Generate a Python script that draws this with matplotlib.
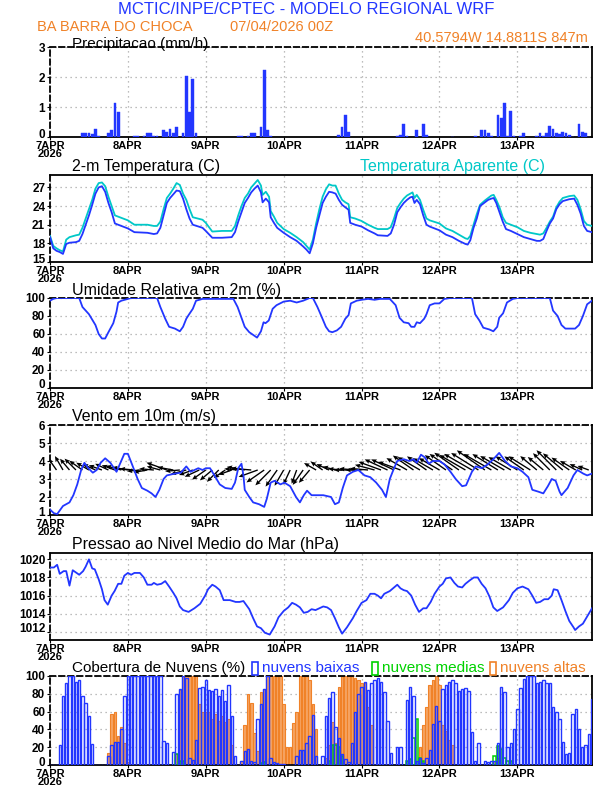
import numpy as np
import matplotlib
matplotlib.use("Agg")
import matplotlib.pyplot as plt
from matplotlib.patches import Rectangle
from matplotlib.transforms import ScaledTranslation

# eixo de tempo (horas desde 07/04/2026 00Z)
day_ticks = [0, 24, 48, 72, 96, 120, 144]
day_labels = ["7APR\n2026", "8APR", "9APR", "10APR", "11APR", "12APR", "13APR"]

# precipitacao (mm/h), so as horas com chuva
precip_h = [10, 11, 12, 13, 14, 15, 18, 19, 20, 21,
            26, 27, 29, 30, 31, 32, 33, 35, 36, 37,
            38, 39, 41, 42, 43, 44, 45, 58, 59, 61,
            62, 63, 65, 66, 67, 68, 89, 90, 91, 92,
            107, 108, 109, 110, 113, 115, 116, 124, 131, 133,
            134, 135, 136, 138, 139, 140, 141, 142, 143, 145,
            146, 150, 151, 152, 153, 154, 155, 156, 157, 158,
            159, 160, 161, 163, 164, 165, 166]
precip_v = [0.12, 0.15, 0.12, 0.1, 0.28, 0.05, 0.12, 0.25, 1.15, 0.85,
            0.02, 0.02, 0.05, 0.15, 0.12, 0.05, 0.05, 0.22, 0.18, 0.28,
            0.12, 0.32, 0.15, 2.02, 0.85, 1.92, 0.12, 0.02, 0.02, 0.05,
            0.15, 0.15, 0.35, 2.25, 0.25, 0.05, 0.08, 0.35, 0.75, 0.18,
            0.02, 0.08, 0.45, 0.03, 0.22, 0.42, 0.08, 0.01, 0.04, 0.25,
            0.22, 0.15, 0.02, 0.72, 0.65, 1.12, 0.05, 0.88, 0.02, 0.05,
            0.15, 0.04, 0.15, 0.05, 0.15, 0.38, 0.28, 0.14, 0.1, 0.18,
            0.13, 0.07, 0.01, 0.42, 0.18, 0.15, 0.01]

# temperatura 2m e aparente (C)
temp_h = [0, 1, 2, 3, 4, 5, 6, 8, 9, 10,
          11, 12, 13, 14, 15, 16, 17, 18, 19, 20,
          21, 24, 26, 30, 32, 33, 34, 35, 36, 37,
          38, 39, 40, 41, 42, 43, 44, 47, 48, 50,
          53, 56, 57, 58, 59, 60, 61, 62, 63, 64,
          65, 65.5, 66.5, 67.5, 68, 69, 70, 72, 74, 76,
          78, 79, 80, 81, 82, 83, 84, 85, 86, 87,
          88, 89, 90, 91, 92, 92.5, 94, 96, 98, 100,
          101, 104, 105, 106, 107, 108, 109, 110, 111, 111.7,
          112.3, 113, 114, 115, 116, 117, 120, 122, 124, 126,
          128, 128.7, 129.5, 130.5, 131.5, 132.5, 134, 135, 136, 136.7,
          137.5, 138.5, 139.5, 140.5, 142, 144, 146, 148, 150, 151,
          152, 153, 154, 155, 156, 157, 158, 160, 161.5, 162.5,
          163.5, 164.5, 165.5, 167]
temp_2m = [19.0, 17.2, 16.8, 16.6, 16.3, 17.9, 18.1, 18.2, 18.4, 19.5,
           21.0, 22.5, 24.2, 26.0, 27.0, 27.2, 26.3, 24.5, 23.0, 21.2,
           21.0, 20.4, 19.8, 19.7, 19.5, 19.6, 20.5, 22.5, 24.5, 25.3,
           25.9, 26.5, 26.4, 25.2, 23.5, 22.0, 21.0, 20.5, 20.0, 18.9,
           18.9, 19.0, 19.8, 21.5, 23.0, 24.5, 25.3, 26.2, 26.8, 27.3,
           26.2, 24.6, 25.2, 24.6, 22.2, 21.3, 20.5, 19.7, 19.0, 18.4,
           17.5, 17.0, 16.4, 18.0, 20.5, 22.5, 24.5, 25.5, 26.3, 26.2,
           26.0, 25.0, 24.2, 23.8, 23.4, 21.3, 21.0, 20.7, 20.1, 19.6,
           19.3, 19.2, 19.6, 21.0, 23.0, 23.8, 24.5, 25.0, 25.4, 25.5,
           24.5, 25.0, 24.3, 22.5, 21.0, 20.7, 20.1, 19.4, 19.0, 18.4,
           17.9, 17.8, 18.5, 20.5, 22.0, 24.0, 24.6, 25.0, 25.2, 25.3,
           24.5, 23.0, 21.5, 20.3, 20.0, 19.5, 19.0, 18.7, 18.4, 18.4,
           18.7, 20.0, 21.2, 22.0, 23.5, 24.3, 24.8, 25.1, 25.2, 24.2,
           22.8, 20.8, 20.0, 19.8]
temp_ap = [19.2, 17.6, 17.2, 16.9, 16.7, 18.6, 19.0, 19.3, 19.4, 20.5,
           22.0, 23.5, 25.0, 26.8, 27.7, 27.8, 27.2, 25.5, 24.0, 22.5,
           22.3, 21.7, 21.0, 21.0, 20.8, 20.8, 21.5, 23.5, 25.3, 26.0,
           26.8, 27.7, 27.4, 26.0, 25.0, 23.5, 22.2, 21.8, 21.3, 19.9,
           20.0, 20.0, 20.8, 22.5, 24.0, 25.3, 26.0, 27.0, 27.6, 28.2,
           27.3, 25.8, 26.3, 25.5, 23.2, 22.3, 21.3, 20.3, 19.7, 19.0,
           18.2, 17.6, 17.0, 18.6, 21.2, 23.5, 25.5, 26.7, 27.5, 27.3,
           27.3, 26.0, 25.0, 24.6, 24.3, 22.2, 22.0, 21.6, 21.0, 20.5,
           20.3, 20.3, 20.6, 22.0, 23.7, 24.5, 25.2, 25.7, 26.0, 26.2,
           25.3, 25.8, 25.0, 23.4, 22.0, 21.7, 21.2, 20.4, 20.0, 19.4,
           18.8, 18.7, 19.2, 21.0, 22.7, 24.2, 24.9, 25.3, 25.7, 25.8,
           25.0, 23.8, 22.2, 21.3, 21.0, 20.6, 20.0, 19.7, 19.5, 19.4,
           19.6, 20.5, 21.5, 22.3, 23.8, 24.7, 25.3, 25.6, 25.7, 25.0,
           23.5, 21.6, 21.0, 20.8]

# umidade relativa (%)
rh_h = [0, 1, 2, 9, 10, 12, 14, 15, 16, 17,
        18, 19.5, 20.5, 21, 22, 24, 25, 33, 34, 35.5,
        36.7, 38.5, 40, 41, 42, 42.7, 44, 45, 47, 48,
        56.5, 57.8, 59, 60, 61.4, 63, 63.8, 65, 65.8, 66.4,
        67.4, 68.6, 69.8, 72, 74, 76, 78, 80, 81, 82.4,
        83.6, 85, 86, 87, 88.4, 89.7, 91, 92, 92.7, 94.5,
        96, 98, 100, 101.7, 104.7, 106.5, 107.7, 109, 110.5, 111.3,
        112.3, 113, 114, 115.3, 116, 117, 118.5, 120, 121.5, 123.4,
        130, 131, 132.3, 133.5, 135.4, 136.6, 137.8, 138.4, 139.6, 140.8,
        142.6, 144, 154, 155, 156.4, 157.6, 158.8, 161.8, 163, 164.2,
        165.5, 167]
rh = [97, 99, 100, 100, 90, 82, 70, 60, 55, 55,
      62, 72, 85, 95, 97, 99, 100, 100, 90, 77,
      68, 66, 63, 68, 77, 81, 88, 97, 99, 99,
      99, 90, 78, 68, 62, 58, 56, 63, 73, 72,
      75, 88, 92, 96, 97, 95, 97, 100, 100, 90,
      80, 68, 63, 62, 64, 68, 77, 81, 94, 97,
      98, 99, 98, 99, 99, 92, 78, 73, 72, 68,
      68, 73, 72, 77, 82, 92, 94, 94, 99, 100,
      100, 82, 75, 67, 65, 63, 68, 78, 83, 95,
      99, 100, 100, 86, 80, 70, 66, 66, 70, 80,
      93, 97]

# vento 10m: velocidade (m/s)
ws_h = [0, 1.2, 2.2, 4, 6, 7.2, 8.4, 9.6, 10.6, 11.8,
        13.2, 14.4, 15.6, 17, 18.6, 20.5, 21.7, 22.9, 24, 25.3,
        27, 28.3, 30, 31.3, 32.5, 33.7, 35, 36, 38.5, 40.3,
        42, 43.3, 44.5, 45.7, 47, 48, 49.3, 51, 52.3, 54,
        56, 57, 58, 59, 59.6, 60, 61.4, 62.6, 64.4, 66,
        66.8, 68, 69.2, 71, 72.2, 74, 75.8, 77, 78.2, 79.2,
        80.6, 82.4, 84.2, 86.6, 87.8, 89, 90.2, 91.5, 93.3, 95,
        96.9, 98.7, 100.5, 102.3, 103.5, 104.7, 106, 107, 109, 110.7,
        112, 113, 114.3, 115.5, 116.7, 118, 120, 121.6, 123.4, 125,
        127, 128.2, 130, 131.2, 133, 134.8, 136.6, 138.4, 140.2, 142,
        144, 145.6, 147.4, 148.6, 150.4, 152, 153.4, 154.6, 155.8, 157,
        157.6, 159.5, 161.3, 162.5, 164.3, 165.5, 167]
ws = [1.3, 1.1, 1.05, 1.5, 1.7, 2.1, 2.7, 3.5, 3.9, 3.6,
      3.35, 3.5, 3.9, 4.15, 3.9, 3.4, 3.9, 4.4, 4.4, 3.8,
      3.0, 2.5, 2.35, 2.2, 2.0, 2.4, 3.0, 3.2, 3.3, 3.35,
      3.7, 3.4, 3.5, 3.6, 3.5, 3.6, 3.6, 3.1, 2.7, 2.5,
      2.45, 2.8, 3.6, 3.85, 3.2, 2.4, 2.0, 1.7, 1.6, 1.45,
      1.9, 2.8, 2.9, 2.7, 2.8, 2.6, 2.0, 1.7, 2.1, 2.35,
      2.1, 2.1, 2.1, 2.0, 1.6, 1.7, 2.5, 3.2, 3.4, 3.5,
      3.2, 3.1, 2.8, 2.4, 2.0, 3.0, 3.6, 4.0, 4.1, 4.0,
      4.1, 3.9, 4.35, 4.2, 3.85, 4.0, 4.0, 3.8, 3.4, 3.0,
      2.6, 2.65, 3.4, 3.7, 3.6, 3.8, 4.1, 4.45, 4.0, 3.7,
      3.6, 3.4, 3.1, 2.4, 2.3, 2.2, 2.6, 3.0, 2.9, 2.3,
      2.1, 2.5, 3.2, 3.5, 3.3, 3.2, 3.3]

# vetores de vento a cada 2h: angulo da seta (graus) e tamanho
vec_h = list(range(0, 167, 2))
vec_ang = [120, 125, 120, 130, 135, 145, 150, 155, 160, 155,
           160, 165, 170, 175, 185, 190, 175, 165, 160, 170,
           185, 195, 200, 205, 215, 220, 225, 215, 200, 175,
           170, 175, 200, 215, 225, 235, 240, 245, 250, 235,
           230, 150, 145, 155, 165, 175, 180, 175, 180, 175,
           165, 160, 155, 155, 160, 150, 145, 150, 145, 150,
           150, 145, 145, 145, 150, 150, 148, 145, 150, 148,
           150, 150, 148, 145, 148, 140, 140, 135, 135, 140,
           145, 150, 155, 160]
vec_len = [1.4, 2.0, 2.3, 2.1, 2.3, 2.3, 2.1, 2.0, 2.0, 2.1,
           2.0, 2.3, 2.3, 2.1, 2.0, 2.0, 2.1, 2.0, 3.1, 2.3,
           2.1, 2.3, 2.1, 2.3, 2.4, 2.3, 2.4, 2.0, 2.0, 2.0,
           2.6, 2.9, 2.9, 3.1, 3.1, 2.9, 2.6, 2.3, 2.1, 2.6,
           2.4, 2.0, 2.1, 2.0, 1.9, 2.0, 2.1, 2.3, 2.3, 2.6,
           2.9, 3.4, 3.6, 3.6, 3.4, 3.4, 3.6, 3.7, 3.4, 3.4,
           3.4, 3.7, 4.0, 4.3, 4.3, 4.6, 4.6, 4.9, 4.6, 4.3,
           4.0, 3.7, 3.7, 3.4, 3.7, 3.1, 2.9, 3.4, 4.0, 3.7,
           3.1, 2.6, 2.0, 1.7]

# pressao ao nivel medio do mar (hPa)
p_h = [0, 1.2, 2.2, 3, 4.2, 5, 6, 7, 7.8, 9,
       10.2, 11, 12, 13, 13.8, 15, 16, 16.8, 17.8, 19,
       19.9, 21, 22, 22.9, 24, 25, 26, 27.7, 28.9, 30,
       31.3, 32, 33, 34.3, 35.5, 36.7, 38, 39, 40, 41,
       42.7, 44.5, 46.3, 47.8, 48.7, 50, 51, 52.3, 53.5, 55.4,
       57.2, 58.4, 59.6, 61.4, 62.6, 63.8, 65, 66.2, 67.7, 69.2,
       70.4, 72, 73.4, 74.6, 75.8, 77, 78.2, 79.4, 80.6, 81.8,
       83, 84.2, 85.4, 86.6, 87.8, 89, 90, 91.5, 93.3, 94.5,
       96, 97.5, 98.7, 100, 101, 102, 103, 104.7, 106, 107,
       108, 109, 110, 111.3, 112.5, 113.7, 115, 116, 117.3, 118.5,
       120, 121, 122, 123.4, 124.6, 125.7, 127, 128, 129.4, 130.6,
       131.8, 133, 134.2, 135.4, 136.6, 137.8, 139.6, 141.4, 142.6, 144,
       145.6, 147.4, 148.6, 149.8, 151, 152.3, 153.5, 154.6, 155.2, 156.4,
       157.6, 158.8, 160, 161.3, 161.8, 163, 164.2, 165.5, 167]
pres = [1019.1, 1019.1, 1019.4, 1018.4, 1018.7, 1018.7, 1017.1, 1018.8, 1018.6, 1018.3,
        1018.7, 1019.2, 1020.0, 1019.0, 1018.9, 1017.8, 1016.7, 1015.5, 1015.0, 1016.0,
        1016.5, 1017.3, 1017.3, 1018.2, 1018.5, 1018.3, 1018.5, 1018.5, 1018.0, 1017.2,
        1017.2, 1017.4, 1017.2, 1017.3, 1017.6, 1017.0, 1016.3, 1015.7, 1014.8, 1014.4,
        1014.2, 1014.6, 1015.1, 1016.0, 1016.7, 1017.2, 1017.0, 1016.6, 1015.5, 1015.5,
        1015.3, 1015.3, 1015.4, 1014.5, 1013.5, 1012.6, 1012.4, 1011.9, 1011.7, 1012.6,
        1013.6, 1014.3, 1014.7, 1015.2, 1015.0, 1014.7, 1014.1, 1014.2, 1014.5, 1014.4,
        1014.6, 1014.8, 1014.7, 1014.4, 1013.5, 1012.5, 1011.8, 1012.5, 1013.5, 1014.3,
        1015.2, 1015.5, 1016.2, 1016.2, 1016.0, 1015.7, 1016.2, 1016.5, 1016.9, 1017.2,
        1016.8, 1016.6, 1016.5, 1016.0, 1015.0, 1014.2, 1014.6, 1014.6, 1015.3, 1016.2,
        1017.0, 1017.3, 1017.9, 1018.0, 1017.4, 1017.0, 1016.9, 1017.3, 1017.7, 1018.0,
        1018.0, 1017.3, 1016.8, 1015.9, 1014.7, 1014.3, 1014.7, 1015.5, 1016.3, 1016.8,
        1017.0, 1016.7, 1016.0, 1015.2, 1015.3, 1015.6, 1015.6, 1016.0, 1016.7, 1016.6,
        1015.5, 1014.3, 1013.2, 1012.5, 1012.2, 1012.6, 1012.9, 1013.7, 1014.6]

# cobertura de nuvens (%), nuvens baixas hora a hora (0..167)
cld_low = [0, 0, 0, 22, 77, 92, 100, 100, 93, 96, 78, 70,
           55, 24, 0, 0, 0, 0, 10, 23, 26, 26, 40, 78,
           100, 100, 100, 100, 100, 100, 100, 100, 100, 100, 100, 27,
           25, 0, 15, 80, 85, 100, 98, 8, 6, 28, 86, 88,
           95, 84, 83, 85, 77, 84, 72, 90, 55, 10, 0, 5,
           16, 18, 4, 3, 52, 68, 85, 100, 8, 3, 2, 1,
           1, 0, 0, 0, 10, 17, 17, 25, 33, 56, 10, 0,
           10, 55, 75, 82, 43, 30, 12, 7, 3, 25, 60, 80,
           88, 93, 84, 92, 95, 98, 93, 82, 50, 13, 0, 20,
           20, 0, 73, 88, 78, 5, 8, 2, 8, 17, 46, 66,
           50, 85, 90, 93, 96, 92, 83, 85, 87, 83, 37, 5,
           25, 0, 5, 3, 5, 5, 25, 88, 82, 20, 25, 40,
           63, 86, 97, 100, 100, 100, 92, 93, 95, 92, 92, 65,
           60, 52, 26, 12, 13, 57, 63, 41, 20, 22, 35, 74]
# nuvens medias (so as horas nao nulas)
cld_mid_h = [39, 40, 41, 65, 66, 86, 87, 88, 89, 90,
             110, 111, 112, 113, 114, 115, 137, 138, 139, 140, 141, 142]
cld_mid = [12, 5, 5, 2, 3, 5, 22, 23, 20, 10,
           5, 7, 30, 52, 8, 5, 10, 21, 18, 8, 5, 5]
# nuvens altas (so as horas nao nulas)
cld_high_h = [18, 19, 20, 21, 22, 23, 24,
              39, 40, 41, 42, 43, 44, 45, 46, 47, 48, 49, 50, 51, 52, 53, 54, 55, 56,
              59, 60, 61, 62, 63, 64, 65, 66, 67, 68, 69, 70, 71, 72, 73, 74, 75, 76,
              77, 78, 79, 80, 81, 82,
              85, 86, 87, 88, 89, 90, 91, 92, 93, 94, 95, 96, 97, 98, 99,
              114, 115, 116, 117, 118, 119, 120, 121, 122, 123, 124, 137, 138]
cld_high = [14, 57, 60, 33, 43, 25, 3,
            12, 84, 100, 100, 100, 100, 100, 68, 60, 60, 60, 52, 57, 50, 55, 48, 52, 22,
            5, 45, 80, 70, 36, 16, 82, 85, 100, 100, 100, 100, 100, 68, 20, 20, 47, 60,
            100, 100, 100, 95, 68, 40,
            8, 22, 48, 25, 88, 100, 100, 100, 100, 98, 96, 92, 92, 65, 45,
            20, 45, 65, 90, 95, 100, 90, 45, 38, 28, 22, 5, 8]

BLUE = "#2236ff"
CYAN = "#00c8c8"
ORANGE = "#f08228"
GREEN = "#00d200"
GRID = "#a8a8a8"

plt.rcParams['font.family'] = ['Liberation Sans', 'DejaVu Sans']

W, H = 612.0, 792.0
X0, X1 = 50, 592
fig = plt.figure(figsize=(6.12, 7.92), dpi=100)
lift = ScaledTranslation(0, 4 / 100, fig.dpi_scale_trans)


def panel(top, bottom, ylim, yticks, top_dash=False):
    ax = fig.add_axes([X0 / W, 1 - bottom / H, (X1 - X0) / W, (bottom - top) / H])
    ax.set_xlim(0, 167)
    ax.set_ylim(*ylim)
    ax.set_yticks(yticks)
    ax.set_xticks(day_ticks)
    ax.set_xticklabels(day_labels, linespacing=0.8)
    ax.grid(True, color=GRID, linestyle=(0, (1, 3)), linewidth=0.9)
    ax.set_axisbelow(True)
    ax.tick_params(direction='out', length=2.5, width=0.8, labelsize=8.5, pad=1)
    ax.tick_params(axis='x', labelsize=8, pad=0.3)
    for lab in ax.get_xticklabels() + ax.get_yticklabels():
        lab.set_fontweight('bold')
    # a etiqueta mais baixa do eixo y sobe um pouco para nao encostar na data
    low = ax.get_yticklabels()[0]
    low.set_transform(low.get_transform() + lift)
    for s in ax.spines.values():
        s.set_color('black')
        s.set_linewidth(1.3)
    ax.spines['left'].set_linestyle((0, (3, 2)))
    if top_dash:
        ax.spines['top'].set_linestyle((0, (3, 2)))
    return ax


def title(y, txt, x=72, color='black', ha='left', size=11.5):
    fig.text(x / W, 1 - y / H, txt, color=color, ha=ha, va='center', fontsize=size)


# cabecalho
title(9.5, "MCTIC/INPE/CPTEC - MODELO REGIONAL WRF", x=306, color=BLUE, ha='center', size=12)
title(27, "BA BARRA DO CHOCA", x=37, color=ORANGE, size=10.5)
title(27, "07/04/2026 00Z", x=230, color=ORANGE, size=10.5)
title(38, "40.5794W 14.8811S 847m", x=588, color=ORANGE, ha='right', size=10.5)

# precipitacao
ax = panel(47, 137, (0, 3), [0, 1, 2, 3], top_dash=True)
ax.bar(precip_h, precip_v, width=0.85, color=BLUE, edgecolor=BLUE, linewidth=0.3, zorder=3)
title(44, "Precipitacao (mm/h)", size=11)

# temperatura
ax = panel(175, 262, (15, 29), [15, 18, 21, 24, 27])
ax.plot(temp_h, temp_ap, color=CYAN, lw=1.3, zorder=3)
ax.plot(temp_h, temp_2m, color=BLUE, lw=1.3, zorder=4)
title(166, "2-m Temperatura (C)")
title(166, "Temperatura Aparente (C)", x=360, color=CYAN)

# umidade relativa
ax = panel(298, 388, (0, 100), [0, 20, 40, 60, 80, 100], top_dash=True)
ax.plot(rh_h, rh, color=BLUE, lw=1.3, zorder=3)
title(291, "Umidade Relativa em 2m (%)")

# vento
ax = panel(425, 515, (1, 6), [1, 2, 3, 4, 5, 6], top_dash=True)
ang = np.radians(vec_ang)
u = np.array(vec_len) * np.cos(ang)
v = np.array(vec_len) * np.sin(ang)
ax.quiver(vec_h, np.full(len(vec_h), 3.5), u, v, angles='uv', scale_units='inches',
          scale=14.3, pivot='tail', color='black', width=0.0025,
          headwidth=3.5, headlength=4, headaxislength=3.5, zorder=3)
ax.plot(ws_h, ws, color=BLUE, lw=1.3, zorder=4)
title(417, "Vento em 10m (m/s)")

# pressao
ax = panel(553, 640, (1011.1, 1020.7), [1012, 1014, 1016, 1018, 1020])
ax.plot(p_h, pres, color=BLUE, lw=1.3, zorder=3)
title(544, "Pressao ao Nivel Medio do Mar (hPa)")

# nuvens
ax = panel(676, 765, (0, 100), [0, 20, 40, 60, 80, 100], top_dash=True)
hours = np.arange(len(cld_low))
ax.bar(cld_high_h, cld_high, width=0.8, color="#f6a464", edgecolor=ORANGE,
       linewidth=0.8, zorder=2)
ax.bar(cld_mid_h, cld_mid, width=0.7, facecolor='none', edgecolor=GREEN,
       linewidth=1.1, zorder=3)
ax.bar(hours, cld_low, width=0.75, facecolor='none', edgecolor=BLUE,
       linewidth=1.0, zorder=5)
title(668, "Cobertura de Nuvens (%)", size=11)
for x, txt, col in [(252, "nuvens baixas", BLUE), (372, "nuvens medias", GREEN),
                    (490, "nuvens altas", ORANGE)]:
    fig.patches.append(Rectangle((x / W, 1 - 675 / H), 6 / W, 13 / H, transform=fig.transFigure,
                                 facecolor='none', edgecolor=col, linewidth=1.2))
    title(668, txt, x=x + 10, color=col, size=11)

fig.savefig("out.png", dpi=100)
